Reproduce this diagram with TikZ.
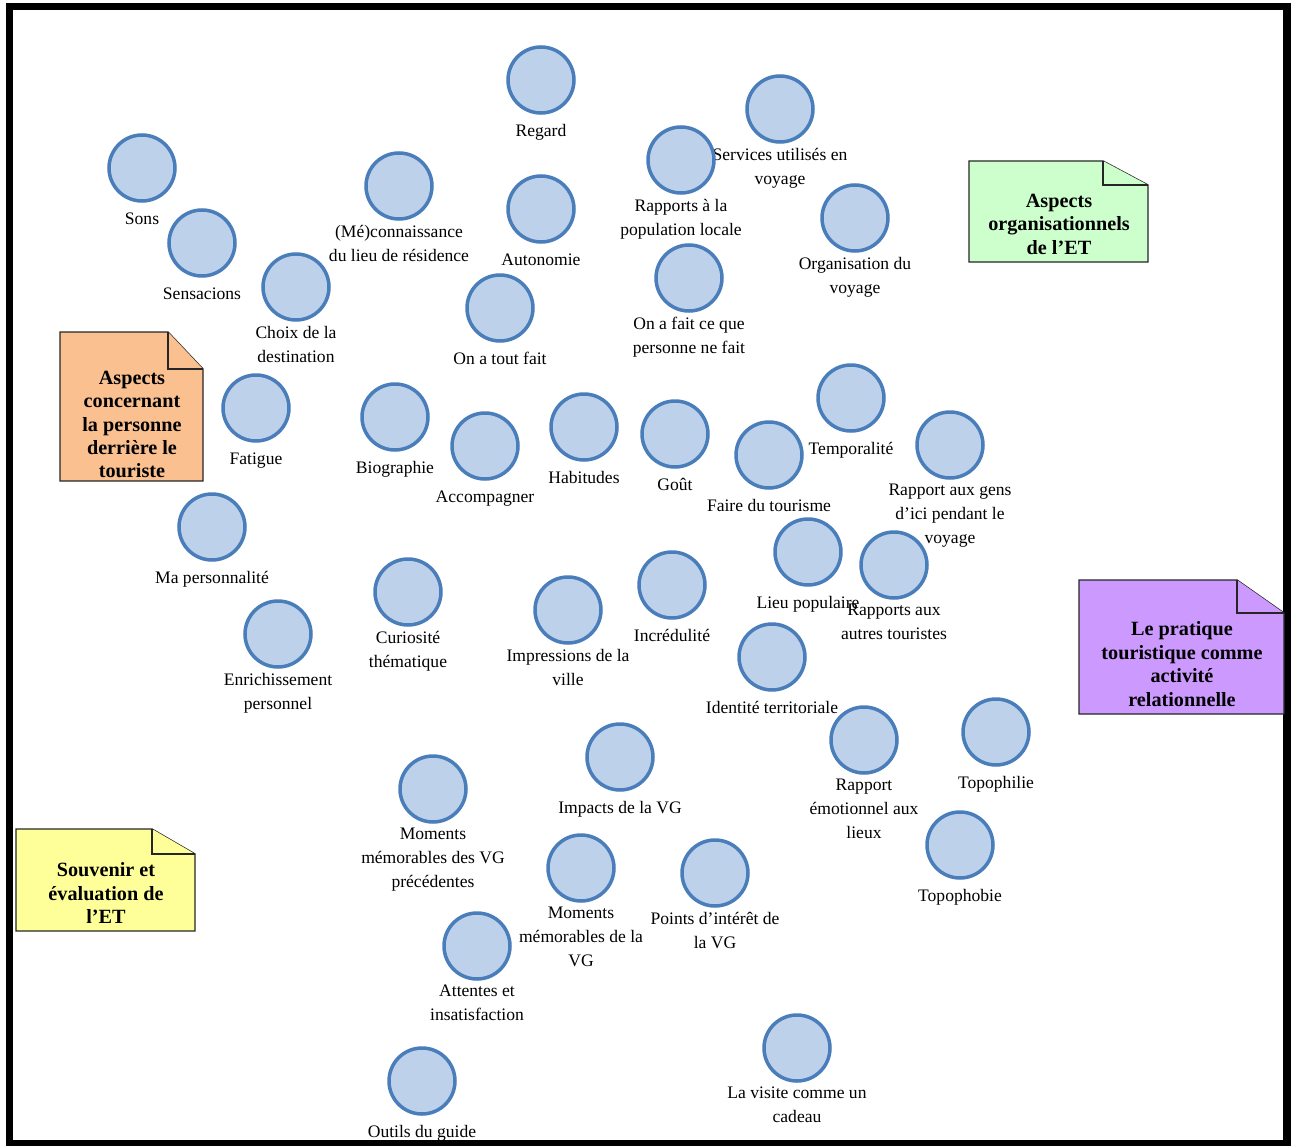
\documentclass[tikz,border=0pt]{standalone}
\usepackage{fontspec}
\setmainfont{Liberation Serif}
\usepackage{tikz}
\usetikzlibrary{positioning}
\definecolor{topicfill}{HTML}{BED1EA}
\definecolor{topicline}{HTML}{4A7EBB}
\definecolor{orgbg}{HTML}{CCFFCC}
\definecolor{persbg}{HTML}{FAC090}
\definecolor{relbg}{HTML}{CC99FF}
\definecolor{souvbg}{HTML}{FFFF99}

% note with folded corner: colour, x1, y1, x2, y2, fold width, fold height
\newcommand{\foldnote}[7]{%
  \draw[note, fill=#1] (#2,#3) -- ({#4-#6},#3) -- (#4,{#3+#7}) -- (#4,#5) -- (#2,#5) -- cycle;
  \draw[note, fill=#1] ({#4-#6},#3) -- ({#4-#6},{#3+#7}) -- (#4,{#3+#7});
}

\begin{document}
\begin{tikzpicture}[x=0.02cm, y=-0.02cm,
  topic/.style={circle, draw=topicline, fill=topicfill, line width=2pt, minimum size=1.32cm, inner sep=0pt},
  lbl/.style={font=\fontsize{10}{13.6}\selectfont, align=center, inner sep=0pt, outer sep=0pt, execute at begin node=\strut},
  note/.style={draw=black!85, line width=0.8pt},
  notetxt/.style={font=\bfseries\fontsize{11.5}{13.3}\selectfont, align=center, inner sep=0pt, anchor=north, execute at begin node=\strut},
  node distance=2.6pt]
  \useasboundingbox (0,0) rectangle (1292,1146);

  % Frame
  \draw[line width=0.15cm] (9.5,6.5) rectangle (1287,1143.5);

  % Category notes
  \foldnote{orgbg}{969}{161}{1148}{262}{45}{24}
  \node[notetxt] (orgtxt) at (1059,193.6) {Aspects\\organisationnels\\de l'ET};
  \foldnote{persbg}{60}{332}{203}{481}{35}{37}
  \node[notetxt] (perstxt) at (132,370.6) {Aspects\\concernant\\la personne\\derrière le\\touriste};
  \foldnote{relbg}{1079}{580}{1284}{714}{47}{33}
  \node[notetxt] (reltxt) at (1182,621.6) {Le pratique\\touristique comme\\activité\\relationnelle};
  \foldnote{souvbg}{16}{829}{195}{931}{43}{25}
  \node[notetxt] (souvtxt) at (106,862.6) {Souvenir et\\évaluation de\\l'ET};

  % Top row
  \node[topic] (regard) at (541,80) {};
  \node[lbl, below=of regard] (regardlbl) {Regard};
  \node[topic] (services) at (780,109) {};
  \node[lbl, below=of services] (serviceslbl) {Services utilisés en\\voyage};
  \node[topic] (rapportspop) at (681,160) {};
  \node[lbl, below=of rapportspop] (rapportspoplbl) {Rapports à la\\population locale};
  \node[topic] (sons) at (142,168) {};
  \node[lbl, below=of sons] (sonslbl) {Sons};
  \node[topic] (meconn) at (399,186) {};
  \node[lbl, below=of meconn] (meconnlbl) {(Mé)connaissance\\du lieu de résidence};
  \node[topic] (autonomie) at (541,209) {};
  \node[lbl, below=of autonomie] (autonomielbl) {Autonomie};
  \node[topic] (organisation) at (855,218) {};
  \node[lbl, below=of organisation] (organisationlbl) {Organisation du\\voyage};
  \node[topic] (sensacions) at (202,243) {};
  \node[lbl, below=of sensacions] (sensacionslbl) {Sensacions};
  \node[topic] (choix) at (296,287) {};
  \node[lbl, below=of choix] (choixlbl) {Choix de la\\destination};
  \node[topic] (toutfait) at (500,308) {};
  \node[lbl, below=of toutfait] (toutfaitlbl) {On a tout fait};
  \node[topic] (personne) at (689,278) {};
  \node[lbl, below=of personne] (personnelbl) {On a fait ce que\\personne ne fait};

  % Middle rows
  \node[topic] (fatigue) at (256,408) {};
  \node[lbl, below=of fatigue] (fatiguelbl) {Fatigue};
  \node[topic] (biographie) at (395,417) {};
  \node[lbl, below=of biographie] (biographielbl) {Biographie};
  \node[topic] (accompagner) at (485,446) {};
  \node[lbl, below=of accompagner] (accompagnerlbl) {Accompagner};
  \node[topic] (habitudes) at (584,427) {};
  \node[lbl, below=of habitudes] (habitudeslbl) {Habitudes};
  \node[topic] (gout) at (675,434) {};
  \node[lbl, below=of gout] (goutlbl) {Goût};
  \node[topic] (temporalite) at (851,398) {};
  \node[lbl, below=of temporalite] (temporalitelbl) {Temporalité};
  \node[topic] (tourisme) at (769,455) {};
  \node[lbl, below=of tourisme] (tourismelbl) {Faire du tourisme};
  \node[topic] (gensici) at (950,445) {};
  \node[lbl, below=of gensici] (gensicilbl) {Rapport aux gens\\d'ici pendant le\\voyage};
  \node[topic] (personnalite) at (212,527) {};
  \node[lbl, below=of personnalite] (personnalitelbl) {Ma personnalité};
  \node[topic] (lieupop) at (808,552) {};
  \node[lbl, below=of lieupop] (lieupoplbl) {Lieu populaire};
  \node[topic] (autrestour) at (894,565) {};
  \node[lbl, below=of autrestour] (autrestourlbl) {Rapports aux\\autres touristes};
  \node[topic] (curiosite) at (408,592) {};
  \node[lbl, below=of curiosite] (curiositelbl) {Curiosité\\thématique};
  \node[topic] (impressions) at (568,610) {};
  \node[lbl, below=of impressions] (impressionslbl) {Impressions de la\\ville};
  \node[topic] (incredulite) at (672,585) {};
  \node[lbl, below=of incredulite] (incredulitelbl) {Incrédulité};
  \node[topic] (enrichissement) at (278,634) {};
  \node[lbl, below=of enrichissement] (enrichissementlbl) {Enrichissement\\personnel};
  \node[topic] (identite) at (772,657) {};
  \node[lbl, below=of identite] (identitelbl) {Identité territoriale};

  % Lower rows
  \node[topic] (emotionnel) at (864,740) {};
  \node[lbl, below=of emotionnel] (emotionnellbl) {Rapport\\émotionnel aux\\lieux};
  \node[topic] (topophilie) at (996,732) {};
  \node[lbl, below=of topophilie] (topophilielbl) {Topophilie};
  \node[topic] (impacts) at (620,757) {};
  \node[lbl, below=of impacts] (impactslbl) {Impacts de la VG};
  \node[topic] (momentsprec) at (433,789) {};
  \node[lbl, below=of momentsprec] (momentspreclbl) {Moments\\mémorables des VG\\précédentes};
  \node[topic] (topophobie) at (960,845) {};
  \node[lbl, below=of topophobie] (topophobielbl) {Topophobie};
  \node[topic] (momentsvg) at (581,868) {};
  \node[lbl, below=of momentsvg] (momentsvglbl) {Moments\\mémorables de la\\VG};
  \node[topic] (interet) at (715,873) {};
  \node[lbl, below=of interet] (interetlbl) {Points d'intérêt de\\la VG};
  \node[topic] (attentes) at (477,946) {};
  \node[lbl, below=of attentes] (attenteslbl) {Attentes et\\insatisfaction};
  \node[topic] (outils) at (422,1081) {};
  \node[lbl, below=of outils] (outilslbl) {Outils du guide};
  \node[topic] (cadeau) at (797,1048) {};
  \node[lbl, below=of cadeau] (cadeaulbl) {La visite comme un\\cadeau};
\end{tikzpicture}
\end{document}
